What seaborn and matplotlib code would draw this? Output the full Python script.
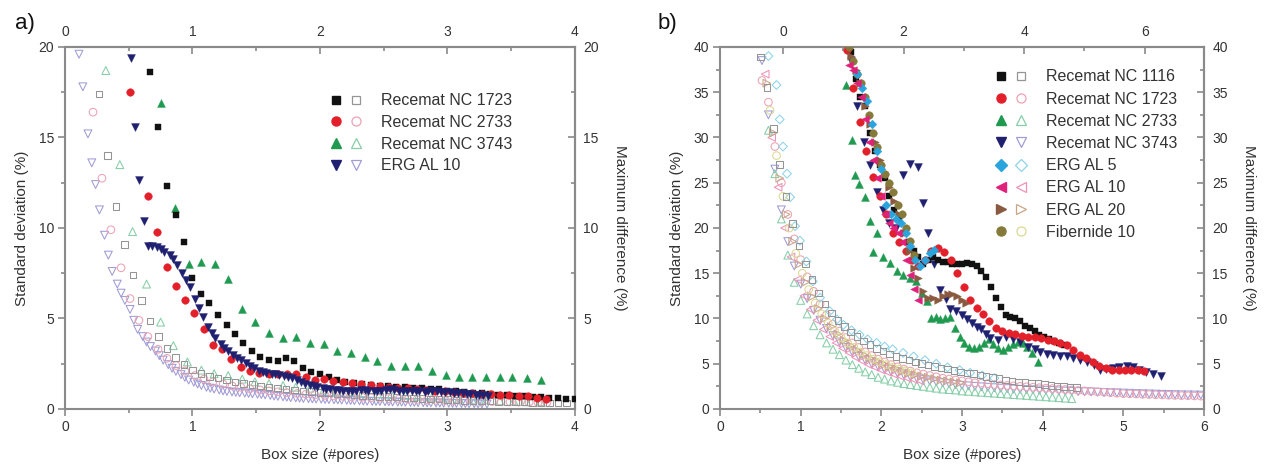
import numpy as np
import pandas as pd
import matplotlib
matplotlib.use("Agg")
import matplotlib.pyplot as plt
import seaborn as sns
from matplotlib.lines import Line2D
from matplotlib.legend_handler import HandlerTuple
from matplotlib.ticker import MultipleLocator, FixedLocator

# ---------------- Panel a data ----------------
a_labels = ["Recemat NC 1723", "Recemat NC 2733", "Recemat NC 3743", "ERG AL 10"]

a_blk_x = [0.667,0.733,0.8,0.867,0.933,1.0,1.067,1.133,1.2,1.267,1.333,1.4,1.467,1.533,1.6,1.667,1.733,1.8,1.867,1.933,
           2.0,2.067,2.133,2.2,2.267,2.333,2.4,2.467,2.533,2.6,2.667,2.733,2.8,2.867,2.933,3.0,3.067,3.133,3.2,3.267,
           3.333,3.4,3.467,3.533,3.6,3.667,3.733,3.8,3.867,3.933,4.0]
a_blk_y = [18.6,15.6,12.3,10.7,9.2,7.25,6.35,5.85,5.2,4.65,4.15,3.65,3.2,2.85,2.7,2.65,2.8,2.65,2.25,2.05,
           1.95,1.75,1.6,1.5,1.45,1.38,1.32,1.28,1.25,1.22,1.2,1.18,1.15,1.12,1.08,1.02,0.98,0.95,0.9,0.86,
           0.82,0.78,0.75,0.72,0.7,0.68,0.65,0.62,0.58,0.56,0.56]

a_red_x = [0.51,0.65,0.72,0.80,0.87,0.94,1.01,1.09,1.16,1.23,1.30,1.38,1.45,1.52,1.60,1.67,1.74,1.81,1.89,1.96,
           2.03,2.10,2.18,2.25,2.32,2.40,2.47,2.54,2.61,2.69,2.76,2.83,2.90,2.98,3.05,3.12,3.19,3.27,3.34,3.41,
           3.48,3.56,3.63,3.70,3.77]
a_red_y = [17.5,11.75,9.8,7.85,6.8,6.0,5.3,4.4,3.55,3.3,2.75,2.3,2.1,2.0,1.93,1.95,1.93,1.93,1.77,1.62,
           1.65,1.55,1.5,1.45,1.38,1.35,1.28,1.22,1.18,1.15,1.1,1.05,1.0,0.98,0.95,0.9,0.88,0.85,0.82,0.8,
           0.75,0.72,0.7,0.62,0.55]

a_grn_x = [0.75,0.86,0.97,1.07,1.18,1.28,1.39,1.49,1.60,1.71,1.81,1.92,2.03,2.13,2.24,2.35,2.45,2.56,2.67,2.77,
           2.88,2.99,3.09,3.19,3.30,3.41,3.51,3.62,3.73]
a_grn_y = [16.9,11.1,8.0,8.1,8.0,7.2,5.55,4.8,4.2,3.9,3.95,3.65,3.6,3.2,3.1,2.85,2.65,2.38,2.38,2.38,
           2.1,1.88,1.75,1.75,1.75,1.75,1.75,1.72,1.6]

a_nav_x = [0.52,0.55,0.58,0.62,0.65,0.68,0.72,0.75,0.78,0.82,0.85,0.88,0.92,0.95,0.98,1.02,1.05,1.08,1.12,1.15,
           1.18,1.22,1.25,1.28,1.32,1.35,1.38,1.42,1.45,1.48,1.52,1.55,1.58,1.62,1.65,1.68,1.72,1.75,1.78,1.82,
           1.85,1.88,1.92,1.95,1.98,2.02,2.05,2.08,2.12,2.15,2.18,2.22,2.25,2.28,2.32,2.35,2.38,2.42,2.45,2.48,
           2.52,2.55,2.58,2.62,2.65,2.68,2.72,2.75,2.78,2.82,2.85,2.88,2.92,2.95,2.98,3.02,3.05,3.08,3.12,3.15,
           3.18,3.22,3.25,3.28,3.32]
a_nav_y = [19.4,15.6,12.65,10.4,9.0,8.98,8.94,8.85,8.7,8.5,8.3,7.95,7.5,7.1,6.72,6.1,5.6,5.1,4.55,4.2,
           3.9,3.6,3.38,3.2,2.98,2.82,2.7,2.52,2.38,2.25,2.1,2.02,1.98,1.95,1.93,1.9,1.85,1.78,1.7,1.6,
           1.48,1.38,1.3,1.25,1.2,1.15,1.1,1.08,1.05,1.05,1.02,1.0,1.0,1.02,1.05,1.05,1.02,1.0,0.98,1.0,
           1.05,1.08,1.05,1.0,0.98,1.0,1.02,1.0,0.98,0.96,0.98,1.0,0.98,0.95,0.94,0.92,0.9,0.88,0.86,0.84,
           0.82,0.8,0.78,0.76,0.74]

# open markers (maximum difference)
a_osq_x = [0.267,0.333,0.4,0.467,0.533,0.6,0.667,0.733,0.8,0.867,0.933,1.0,1.067,1.133,1.2,1.267,1.333,1.4,1.467,1.533,
           1.6,1.667,1.733,1.8,1.867,1.933,2.0,2.067,2.133,2.2,2.267,2.333,2.4,2.467,2.533,2.6,2.667,2.733,2.8,2.867,
           2.933,3.0,3.067,3.133,3.2,3.267,3.333,3.4,3.467,3.533,3.6,3.667,3.733,3.8,3.867,3.933]
a_osq_y = [17.4,14.0,11.2,9.1,7.4,6.0,4.85,4.0,3.35,2.85,2.45,2.15,1.95,1.8,1.7,1.6,1.5,1.42,1.35,1.28,
           1.22,1.16,1.1,1.05,1.0,0.96,0.92,0.88,0.85,0.82,0.78,0.75,0.72,0.7,0.68,0.65,0.62,0.6,0.58,0.56,
           0.54,0.52,0.5,0.48,0.46,0.45,0.43,0.42,0.4,0.39,0.38,0.36,0.35,0.34,0.33,0.32]

a_oci_x = [0.22,0.29,0.36,0.44,0.51,0.58,0.65,0.73,0.80,0.87,0.94,1.02,1.09,1.16,1.24,1.31,1.38,1.45,1.53,1.6,
           1.67,1.74,1.82,1.89,1.96,2.04,2.11,2.18,2.25,2.33,2.4,2.47,2.54,2.62,2.69,2.76,2.84,2.91,2.98,3.05,
           3.13,3.2,3.27,3.35,3.42,3.49,3.56,3.64,3.71,3.78]
a_oci_y = [16.4,12.75,9.9,7.8,6.1,4.9,4.0,3.3,2.8,2.4,2.1,1.85,1.65,1.5,1.38,1.28,1.2,1.12,1.05,1.0,
           0.95,0.9,0.86,0.82,0.78,0.75,0.72,0.7,0.67,0.65,0.62,0.6,0.58,0.56,0.54,0.52,0.5,0.48,0.47,0.46,
           0.44,0.43,0.42,0.41,0.4,0.39,0.38,0.37,0.36,0.35]

a_otr_x = [0.32,0.43,0.53,0.64,0.75,0.85,0.96,1.07,1.17,1.28,1.39,1.49,1.6,1.71,1.81,1.92,2.03,2.13,2.24,2.35,
           2.45,2.56,2.67,2.77,2.88,2.99,3.09,3.2,3.3,3.41,3.52,3.62,3.73]
a_otr_y = [18.7,13.5,9.8,6.9,4.8,3.5,2.6,2.15,1.95,1.85,1.65,1.5,1.4,1.3,1.2,1.15,1.05,1.0,0.95,0.9,
           0.85,0.8,0.75,0.7,0.65,0.6,0.55,0.5,0.5,0.45,0.45,0.4,0.4]

a_otd_x = [0.11,0.14,0.18,0.21,0.24,0.27,0.31,0.34,0.37,0.41,0.44,0.47,0.51,0.54,0.57,0.61,0.64,0.67,0.71,0.74,
           0.77,0.81,0.84,0.87,0.91,0.94,0.97,1.01,1.04,1.07,1.11,1.14,1.17,1.21,1.24,1.27,1.31,1.34,1.37,1.41,
           1.44,1.47,1.51,1.54,1.57,1.61,1.64,1.67,1.71,1.74,1.77,1.81,1.84,1.87,1.91,1.94,1.97,2.01,2.04,2.07,
           2.11,2.14,2.17,2.21,2.24,2.27,2.31,2.34,2.37,2.41,2.44,2.47,2.51,2.54,2.57,2.61,2.64,2.67,2.71,2.74,
           2.77,2.81,2.84,2.87,2.91,2.94,2.97,3.01,3.04,3.07,3.11,3.14,3.17,3.21,3.24,3.27,3.31]
a_otd_y = [19.6,17.8,15.2,13.6,12.4,11.0,9.6,8.5,7.6,6.9,6.4,6.0,5.5,4.9,4.4,4.0,3.7,3.45,3.2,2.95,
           2.7,2.45,2.25,2.08,1.9,1.75,1.6,1.48,1.38,1.3,1.2,1.15,1.1,1.05,1.0,0.97,0.94,0.92,0.9,0.88,
           0.86,0.84,0.82,0.8,0.78,0.75,0.72,0.7,0.67,0.65,0.63,0.61,0.6,0.58,0.57,0.56,0.55,0.54,0.53,0.52,
           0.51,0.5,0.49,0.48,0.47,0.46,0.45,0.44,0.43,0.42,0.42,0.41,0.4,0.4,0.39,0.38,0.38,0.37,0.36,0.36,
           0.35,0.35,0.34,0.34,0.33,0.33,0.32,0.32,0.31,0.31,0.3,0.3,0.29,0.29,0.28,0.28,0.27]

# ---------------- Panel b data ----------------
b_labels = ["Recemat NC 1116", "Recemat NC 1723", "Recemat NC 2733", "Recemat NC 3743",
            "ERG AL 5", "ERG AL 10", "ERG AL 20", "Fibernide 10"]

b_blk_x = [1.62,1.68,1.74,1.8,1.86,1.92,1.98,2.04,2.1,2.16,2.22,2.28,2.34,2.4,2.46,2.52,2.58,2.64,2.7,2.76,
           2.82,2.88,2.94,3.0,3.06,3.12,3.18,3.24,3.3,3.36,3.42,3.48,3.54,3.6,3.66,3.72,3.78,3.84,3.9,3.96,
           4.02,4.08,4.14,4.2,4.26]
b_blk_y = [39.5,36.5,34.5,33.5,30.5,28.5,27.0,25.5,23.5,22.0,21.0,19.5,18.5,17.5,16.8,16.0,16.5,16.8,16.5,16.2,
           16.2,16.0,16.0,16.0,16.1,16.0,15.8,15.3,14.6,13.5,12.3,11.3,10.4,10.2,10.1,9.7,9.2,8.9,8.6,8.2,
           7.9,7.7,7.5,7.3,7.1]

b_red_x = [1.57,1.65,1.73,1.81,1.9,1.98,2.06,2.14,2.22,2.3,2.38,2.46,2.54,2.62,2.7,2.78,2.86,2.94,3.02,3.1,
           3.18,3.26,3.34,3.42,3.5,3.58,3.66,3.74,3.82,3.9,3.98,4.06,4.14,4.22,4.3,4.38,4.46,4.54,4.62,4.7,
           4.78,4.86,4.94,5.02,5.1,5.18,5.26]
b_red_y = [39.7,35.5,31.7,28.5,25.6,23.5,21.5,19.5,18.5,17.5,16.5,15.8,16.5,17.5,17.8,17.3,16.5,15.0,13.5,12.0,
           11.2,10.5,9.7,9.0,8.6,8.4,8.3,8.1,8.0,7.9,7.8,7.6,7.5,7.3,7.1,6.5,6.0,5.6,5.2,4.8,
           4.5,4.3,4.3,4.3,4.3,4.3,4.2]

b_grn_x = [1.56,1.63,1.67,1.72,1.8,1.86,1.9,1.94,2.02,2.11,2.19,2.27,2.35,2.43,2.5,2.56,2.62,2.68,2.73,2.79,
           2.85,2.91,2.97,3.03,3.09,3.15,3.21,3.27,3.33,3.39,3.45,3.51,3.57,3.63,3.69,3.75,3.81,3.87,3.94]
b_grn_y = [35.8,29.7,25.8,24.9,23.4,20.8,17.4,19.4,16.8,16.1,15.2,14.8,14.5,14.1,12.8,11.9,10.0,10.2,9.9,10.0,
           10.2,8.9,7.9,7.3,6.8,6.7,6.9,7.3,7.7,7.2,6.7,6.5,6.8,7.2,7.4,7.3,6.9,6.2,5.2]

b_nav_x = [1.62,1.7,1.78,1.86,1.94,2.02,2.1,2.18,2.27,2.35,2.45,2.52,2.58,2.65,2.73,2.8,2.85,2.92,3.0,3.06,
           3.12,3.18,3.24,3.3,3.35,3.45,3.55,3.63,3.72,3.82,3.9,3.97,4.05,4.13,4.22,4.3,4.38,4.46,4.55,4.63,
           4.71,4.79,4.87,4.95,5.04,5.12,5.2,5.28,5.37,5.47]
b_nav_y = [38.5,33.5,29.5,27.0,24.0,22.0,20.5,20.0,25.8,27.1,26.7,22.8,19.4,16.0,13.2,12.2,11.1,10.8,10.4,9.9,
           9.5,9.1,8.8,8.3,7.8,7.6,8.0,7.7,7.4,6.9,6.6,6.3,6.1,6.0,5.9,5.8,5.6,5.4,5.2,4.9,
           4.3,4.4,4.5,4.6,4.7,4.6,4.3,4.1,3.9,3.7]

b_cya_x = [1.7,1.76,1.82,1.88,1.94,2.0,2.06,2.12,2.18,2.24,2.3,2.36,2.42,2.48,2.54,2.6,2.65]
b_cya_y = [37.0,35.5,34.0,31.5,28.5,26.5,22.5,21.5,21.0,20.5,19.5,18.0,16.5,15.8,16.5,17.2,17.6]

b_mag_x = [1.6,1.65,1.7,1.75,1.8,1.85,1.9,1.95,2.0,2.05,2.1,2.15,2.2,2.25,2.3,2.35,2.4,2.45]
b_mag_y = [38.0,37.5,36.0,34.5,32.0,29.5,27.5,25.5,23.5,21.5,20.5,20.0,19.5,18.5,16.5,14.8,13.3,12.0]

b_brn_x = [1.62,1.68,1.74,1.8,1.86,1.92,1.98,2.04,2.1,2.16,2.22,2.28,2.34,2.4,2.46,2.52,2.58,2.64,2.7,2.76,
           2.82,2.88,2.94,3.0,3.05]
b_brn_y = [39.0,37.5,36.0,33.5,31.5,29.5,27.5,26.0,24.5,23.0,21.5,19.5,17.5,15.6,14.5,13.0,12.3,12.3,12.0,12.5,
           12.7,12.7,12.5,12.0,11.7]

b_olv_x = [1.6,1.65,1.7,1.75,1.8,1.85,1.9,1.95,2.0,2.05,2.1,2.15,2.2,2.25,2.3,2.35,2.4]
b_olv_y = [40.0,38.5,37.0,36.0,34.5,32.5,30.5,29.0,27.0,26.0,25.0,24.0,22.5,21.5,20.0,18.6,17.0]

# open markers (maximum difference)
b_osq_x = [0.5,0.58,0.66,0.74,0.82,0.9,0.98,1.06,1.14,1.22,1.3,1.38,1.46,1.54,1.62,1.7,1.78,1.86,1.94,2.02,
           2.1,2.18,2.26,2.34,2.42,2.5,2.58,2.66,2.74,2.82,2.9,2.98,3.06,3.14,3.22,3.3,3.38,3.46,3.54,3.62,
           3.7,3.78,3.86,3.94,4.02,4.1,4.18,4.26,4.34,4.42]
b_osq_y = [38.9,35.5,31.0,27.0,23.5,20.5,18.0,16.0,14.3,12.8,11.6,10.6,9.8,9.1,8.5,8.0,7.5,7.1,6.7,6.4,
           6.1,5.8,5.6,5.4,5.2,5.0,4.85,4.7,4.55,4.4,4.25,4.1,4.0,3.9,3.75,3.6,3.5,3.35,3.2,3.1,
           3.0,2.95,2.85,2.8,2.7,2.6,2.55,2.5,2.45,2.4]

b_oci_x = [0.52,0.6,0.68,0.76,0.84,0.92,1.0,1.08,1.16,1.24,1.32,1.4,1.48,1.56,1.64,1.72,1.8,1.88,1.96,2.04,
           2.12,2.2,2.28,2.36,2.44,2.52,2.6,2.68,2.76,2.84,2.92,3.0,3.08,3.16,3.24,3.32,3.4,3.48,3.56,3.64,
           3.72,3.8,3.88,3.96,4.04,4.12,4.2,4.28,4.36,4.44,4.52,4.6,4.68,4.76,4.84,4.92,5.0,5.08,5.16,5.24,
           5.32,5.4,5.48,5.56,5.64,5.72,5.8,5.88,5.96]
b_oci_y = [36.3,33.9,29.0,25.0,21.5,18.8,16.5,14.6,13.0,11.6,10.4,9.4,8.6,7.9,7.3,6.8,6.3,5.9,5.5,5.2,
           4.9,4.65,4.4,4.2,4.0,3.85,3.7,3.55,3.4,3.3,3.2,3.1,3.0,2.9,2.85,2.8,2.7,2.65,2.6,2.55,
           2.5,2.45,2.4,2.35,2.3,2.25,2.2,2.15,2.1,2.05,2.0,1.95,1.9,1.85,1.8,1.75,1.7,1.68,1.65,1.62,
           1.6,1.57,1.55,1.52,1.5,1.48,1.46,1.44,1.42]

b_otr_x = [0.6,0.68,0.76,0.84,0.92,1.0,1.08,1.16,1.24,1.32,1.4,1.48,1.56,1.64,1.72,1.8,1.88,1.96,2.04,2.12,
           2.2,2.28,2.36,2.44,2.52,2.6,2.68,2.76,2.84,2.92,3.0,3.08,3.16,3.24,3.32,3.4,3.48,3.56,3.64,3.72,
           3.8,3.88,3.96,4.04,4.12,4.2,4.28,4.36]
b_otr_y = [30.8,26.0,21.0,17.0,14.0,12.0,10.5,9.2,8.2,7.3,6.6,6.0,5.4,4.9,4.5,4.1,3.8,3.5,3.3,3.1,
           2.95,2.8,2.7,2.6,2.5,2.4,2.3,2.2,2.15,2.1,2.0,1.95,1.9,1.85,1.8,1.75,1.7,1.65,1.6,1.55,
           1.5,1.45,1.4,1.35,1.3,1.25,1.2,1.15]

b_otd_x = [0.52,0.6,0.68,0.76,0.84,0.92,1.0,1.08,1.16,1.24,1.32,1.4,1.48,1.56,1.64,1.72,1.8,1.88,1.96,2.04,
           2.12,2.2,2.28,2.36,2.44,2.52,2.6,2.68,2.76,2.84,2.92,3.0,3.08,3.16,3.24,3.32,3.4,3.48,3.56,3.64,
           3.72,3.8,3.88,3.96,4.04,4.12,4.2,4.28,4.36,4.44,4.52,4.6,4.68,4.76,4.84,4.92,5.0,5.08,5.16,5.24,
           5.32,5.4,5.48,5.56,5.64,5.72,5.8,5.88,5.96,6.04]
b_otd_y = [38.5,32.5,26.5,22.0,18.5,15.8,13.8,12.2,10.9,9.8,8.9,8.1,7.4,6.8,6.3,5.8,5.4,5.0,4.7,4.4,
           4.15,3.95,3.75,3.55,3.4,3.25,3.1,3.0,2.9,2.8,2.7,2.62,2.55,2.5,2.45,2.4,2.35,2.3,2.25,2.2,
           2.18,2.15,2.12,2.1,2.07,2.04,2.0,1.98,1.95,1.92,1.9,1.88,1.85,1.82,1.8,1.78,1.75,1.73,1.7,1.68,
           1.66,1.64,1.62,1.6,1.58,1.56,1.55,1.54,1.53,1.52]

b_ocy_x = [0.6,0.7,0.74,0.78,0.83,0.87,0.93,0.99,1.07,1.15,1.24,1.36,1.45,1.53,1.63,1.73,1.83,1.94,2.04,2.14,
           2.27,2.4,2.54,2.68,2.82,2.97,3.1,3.25,3.4]
b_ocy_y = [39.0,35.8,32.0,29.0,26.0,23.4,20.2,18.6,16.3,14.1,12.3,10.8,9.9,9.3,8.7,8.2,7.7,7.3,6.9,6.6,
           6.2,5.8,5.4,5.0,4.6,4.3,4.0,3.7,3.4]

b_olt_x = [0.56,0.64,0.72,0.8,0.88,0.96,1.04,1.12,1.2,1.28,1.36,1.44,1.52,1.6,1.68,1.76,1.84,1.92,2.0,2.08,
           2.16,2.24,2.32,2.4,2.48]
b_olt_y = [37.0,30.0,24.5,20.0,16.8,14.3,12.5,11.0,9.8,8.8,8.0,7.3,6.7,6.2,5.7,5.3,4.9,4.6,4.3,4.05,
           3.8,3.6,3.4,3.25,3.1]

b_ort_x = [0.58,0.66,0.74,0.82,0.9,0.98,1.06,1.14,1.22,1.3,1.38,1.46,1.54,1.62,1.7,1.78,1.86,1.94,2.02,2.1,
           2.18,2.26,2.34,2.42,2.5,2.58,2.66,2.74,2.82,2.9,2.98]
b_ort_y = [36.0,30.5,25.5,21.5,18.5,16.0,14.0,12.4,11.1,10.0,9.1,8.3,7.6,7.0,6.5,6.0,5.6,5.3,5.0,4.7,
           4.45,4.2,4.0,3.8,3.65,3.5,3.35,3.2,3.1,3.0,2.9]

b_oyc_x = [0.62,0.7,0.78,0.86,0.94,1.02,1.1,1.18,1.26,1.34,1.42,1.5,1.58,1.66,1.74,1.82,1.9,1.98,2.06,2.14,
           2.22,2.3,2.38]
b_oyc_y = [33.0,28.0,23.5,20.0,17.2,15.0,13.2,11.7,10.5,9.5,8.6,7.9,7.3,6.8,6.3,5.9,5.5,5.2,4.9,4.6,
           4.4,4.2,4.0]

# ---------------- styling ----------------
sns.set_theme(style="ticks")
plt.rcParams['font.family'] = ['Liberation Sans', 'DejaVu Sans']

GRAY = "#8a8a8a"
TXT = "#333333"

C_BLK, C_RED, C_GRN, C_NAV = "#111111", "#e3202a", "#1f9a50", "#1f2070"
C_CYA, C_MAG, C_BRN, C_OLV = "#2aa4dc", "#e0207a", "#8a5a40", "#857a3a"
O_GRY, O_PNK, O_GRN, O_LAV = "#959595", "#eca2b2", "#86cea8", "#a09cd6"
O_CYA, O_MAG, O_TAN, O_YEL = "#8cd4ea", "#ee92b8", "#c8a688", "#dcd892"

SZ = {"s": 22, "o": 30, "^": 32, "v": 32, "D": 20, "<": 30, ">": 30}


def filled(ax, x, y, m, c):
    sns.scatterplot(x=x, y=y, marker=m, s=SZ[m], color=c, edgecolor=c, linewidth=0.3,
                    ax=ax, zorder=3, legend=False)


def hollow(ax, x, y, m, c):
    sns.scatterplot(x=x, y=y, marker=m, s=SZ[m], facecolor="none", edgecolor=c, linewidth=0.75,
                    ax=ax, zorder=2, legend=False)


def hide_titles(a):
    for t in (a.title, a._left_title, a._right_title):
        t.set_visible(False)


def style(ax, xmax, ymax, ystep, top_fun=None, top_major=None, top_minor=None):
    ax.set_xlim(0, xmax)
    ax.set_ylim(0, ymax)
    ax.xaxis.set_major_locator(MultipleLocator(1))
    ax.xaxis.set_minor_locator(MultipleLocator(0.5))
    ax.yaxis.set_major_locator(MultipleLocator(ystep))
    ax.yaxis.set_minor_locator(MultipleLocator(ystep / 2))
    ax.tick_params(which="both", direction="out", color=GRAY, width=1.2, labelsize=10,
                   labelcolor=TXT, pad=3, top=False, right=False)
    ax.tick_params(which="major", length=5)
    ax.tick_params(which="minor", length=3)
    for sp in ax.spines.values():
        sp.set_color(GRAY)
        sp.set_linewidth(1.5)
    ax.set_xlabel("Box size (#pores)", fontsize=11, color=TXT, labelpad=10)
    ax.set_ylabel("Standard deviation (%)", fontsize=11, color=TXT, labelpad=7)

    if top_fun is None:
        top = ax.secondary_xaxis("top")
        top.xaxis.set_major_locator(MultipleLocator(1))
        top.xaxis.set_minor_locator(MultipleLocator(0.5))
    else:
        top = ax.secondary_xaxis("top", functions=top_fun)
        top.xaxis.set_major_locator(FixedLocator(top_major))
        top.xaxis.set_minor_locator(FixedLocator(top_minor))
    top.tick_params(which="both", direction="in", color=GRAY, width=1.2, labelsize=10,
                    labelcolor=TXT, pad=6)
    top.tick_params(which="major", length=5)
    top.tick_params(which="minor", length=3)
    top.spines["top"].set_color(GRAY)
    top.spines["top"].set_linewidth(1.5)
    top.xaxis.label.set_visible(False)
    top.yaxis.label.set_visible(False)

    rt = ax.secondary_yaxis("right")
    rt.yaxis.set_major_locator(MultipleLocator(ystep))
    rt.yaxis.set_minor_locator(MultipleLocator(ystep / 2))
    rt.tick_params(which="both", direction="in", color=GRAY, width=1.2, labelsize=10,
                   labelcolor=TXT, pad=6)
    rt.tick_params(which="major", length=5)
    rt.tick_params(which="minor", length=3)
    rt.spines["right"].set_color(GRAY)
    rt.spines["right"].set_linewidth(1.5)
    rt.set_ylabel("Maximum difference (%)", fontsize=11, color=TXT, rotation=270,
                  va="bottom", labelpad=10)
    rt.xaxis.label.set_visible(False)
    for a in (ax, top, rt):
        hide_titles(a)


def legend(ax, specs, labels, anchor, spacing):
    handles = []
    for m, fc, oc in specs:
        ms = 6.5 if m != "s" else 5.5
        h1 = Line2D([], [], ls="none", marker=m, color=fc, markersize=ms)
        h2 = Line2D([], [], ls="none", marker=m, mfc="none", mec=oc, mew=0.9, markersize=ms)
        handles.append((h1, h2))
    leg = ax.legend(handles, labels, handler_map={tuple: HandlerTuple(ndivide=None, pad=0.5)},
                    loc="upper left", bbox_to_anchor=anchor, frameon=False, fontsize=11.5,
                    handlelength=2.0, handletextpad=1.2, labelspacing=spacing, borderpad=0,
                    borderaxespad=0)
    for t in leg.get_texts():
        t.set_color(TXT)


fig = plt.figure(figsize=(12.67, 4.68), dpi=100)
axa = fig.add_axes([0.0513, 0.1261, 0.4025, 0.7735])
axb = fig.add_axes([0.5683, 0.1261, 0.3820, 0.7735])

# panel a
hollow(axa, a_otd_x, a_otd_y, "v", O_LAV)
hollow(axa, a_otr_x, a_otr_y, "^", O_GRN)
hollow(axa, a_oci_x, a_oci_y, "o", O_PNK)
hollow(axa, a_osq_x, a_osq_y, "s", O_GRY)
filled(axa, a_grn_x, a_grn_y, "^", C_GRN)
filled(axa, a_blk_x, a_blk_y, "s", C_BLK)
filled(axa, a_red_x, a_red_y, "o", C_RED)
filled(axa, a_nav_x, a_nav_y, "v", C_NAV)
style(axa, 4, 20, 5)
legend(axa, [("s", C_BLK, O_GRY), ("o", C_RED, O_PNK), ("^", C_GRN, O_GRN), ("v", C_NAV, O_LAV)],
       a_labels, (0.52, 0.872), 0.42)

# panel b
hollow(axb, b_otd_x, b_otd_y, "v", O_LAV)
hollow(axb, b_otr_x, b_otr_y, "^", O_GRN)
hollow(axb, b_oci_x, b_oci_y, "o", O_PNK)
hollow(axb, b_ocy_x, b_ocy_y, "D", O_CYA)
hollow(axb, b_olt_x, b_olt_y, "<", O_MAG)
hollow(axb, b_ort_x, b_ort_y, ">", O_TAN)
hollow(axb, b_oyc_x, b_oyc_y, "o", O_YEL)
hollow(axb, b_osq_x, b_osq_y, "s", O_GRY)
filled(axb, b_grn_x, b_grn_y, "^", C_GRN)
filled(axb, b_nav_x, b_nav_y, "v", C_NAV)
filled(axb, b_blk_x, b_blk_y, "s", C_BLK)
filled(axb, b_red_x, b_red_y, "o", C_RED)
filled(axb, b_brn_x, b_brn_y, ">", C_BRN)
filled(axb, b_olv_x, b_olv_y, "o", C_OLV)
filled(axb, b_cya_x, b_cya_y, "D", C_CYA)
filled(axb, b_mag_x, b_mag_y, "<", C_MAG)
k = 1.338
style(axb, 6, 40, 5, top_fun=(lambda x: (x - 0.78) * k, lambda t: t / k + 0.78),
      top_major=[0, 2, 4, 6], top_minor=[1, 3, 5])
legend(axb, [("s", C_BLK, O_GRY), ("o", C_RED, O_PNK), ("^", C_GRN, O_GRN), ("v", C_NAV, O_LAV),
             ("D", C_CYA, O_CYA), ("<", C_MAG, O_MAG), (">", C_BRN, O_TAN), ("o", C_OLV, O_YEL)],
       b_labels, (0.568, 0.938), 0.45)

fig.text(15 / 1267, 1 - 34 / 468, "a)", fontsize=16, color="#111111", va="bottom", ha="left")
fig.text(658 / 1267, 1 - 34 / 468, "b)", fontsize=16, color="#111111", va="bottom", ha="left")

fig.savefig("out.png", dpi=100)
